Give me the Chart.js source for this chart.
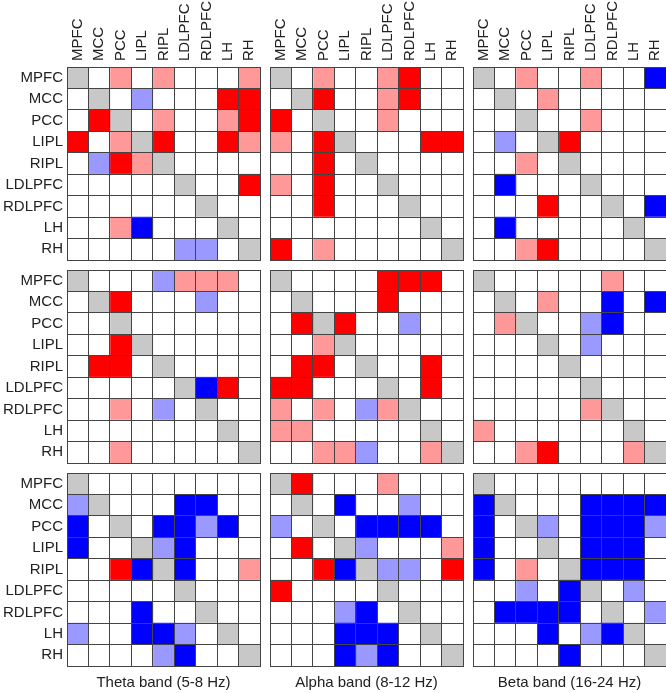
<!DOCTYPE html>
<html><head><meta charset="utf-8">
<script src="https://cdn.jsdelivr.net/npm/chart.js@4"></script>
<style>
html,body{margin:0;padding:0;background:#fff;width:666px;height:693px;overflow:hidden;position:relative}
.p{position:absolute}
</style></head><body>
<script>
// Region labels (rows and columns)
const regions = ["MPFC","MCC","PCC","LIPL","RIPL","LDLPFC","RDLPFC","LH","RH"];
const bands = ["Theta band (5-8 Hz)", "Alpha band (8-12 Hz)", "Beta band (16-24 Hz)"];
// Cell codes: 2 strong increase (red), 1 weak increase (pink), 0 none,
// -1 weak decrease (light blue), -2 strong decrease (blue), null = diagonal (grey)
const thetaTop = [
  [null,0,1,0,1,0,0,0,1],
  [0,null,0,-1,0,0,0,2,2],
  [0,2,null,0,1,0,0,1,2],
  [2,0,1,null,2,0,0,2,1],
  [0,-1,2,1,null,0,0,0,0],
  [0,0,0,0,0,null,0,0,2],
  [0,0,0,0,0,0,null,0,0],
  [0,0,1,-2,0,0,0,null,0],
  [0,0,0,0,0,-1,-1,0,null]
];
const alphaTop = [
  [null,0,1,0,0,1,2,0,0],
  [0,null,2,0,0,1,2,0,0],
  [2,0,null,0,0,1,0,0,0],
  [1,0,2,null,0,0,0,2,2],
  [0,0,2,0,null,0,0,0,0],
  [1,0,2,0,0,null,0,0,0],
  [0,0,2,0,0,0,null,0,0],
  [0,0,0,0,0,0,0,null,0],
  [2,0,1,0,0,0,0,0,null]
];
const betaTop = [
  [null,0,1,0,0,1,0,0,-2],
  [0,null,0,1,0,0,0,0,0],
  [0,0,null,0,0,1,0,0,0],
  [0,-1,0,null,2,0,0,0,0],
  [0,0,1,0,null,0,0,0,0],
  [0,-2,0,0,0,null,0,0,0],
  [0,0,0,2,0,0,null,0,-2],
  [0,-2,0,0,0,0,0,null,0],
  [0,0,1,2,0,0,0,0,null]
];
const thetaMid = [
  [null,0,0,0,-1,1,1,1,0],
  [0,null,2,0,0,0,-1,0,0],
  [0,0,null,0,0,0,0,0,0],
  [0,0,2,null,0,0,0,0,0],
  [0,2,2,0,null,0,0,0,0],
  [0,0,0,0,0,null,-2,2,0],
  [0,0,1,0,-1,0,null,0,0],
  [0,0,0,0,0,0,0,null,0],
  [0,0,1,0,0,0,0,0,null]
];
const alphaMid = [
  [null,0,0,0,0,2,2,2,0],
  [0,null,0,0,0,2,0,0,0],
  [0,2,null,2,0,0,-1,0,0],
  [0,0,1,null,0,0,0,0,0],
  [0,2,2,0,null,0,0,2,0],
  [2,2,0,0,0,null,0,2,0],
  [1,0,1,0,-1,1,null,0,0],
  [1,1,0,0,0,0,0,null,0],
  [0,0,1,1,-1,0,0,1,null]
];
const betaMid = [
  [null,0,0,0,0,0,1,0,0],
  [0,null,0,1,0,0,-2,0,-2],
  [0,1,null,0,0,-1,-2,0,0],
  [0,0,0,null,0,-1,0,0,0],
  [0,0,0,0,null,0,0,0,0],
  [0,0,0,0,0,null,0,0,0],
  [0,0,0,0,0,1,null,0,0],
  [1,0,0,0,0,0,0,null,0],
  [0,0,1,2,0,0,0,1,null]
];
const thetaBot = [
  [null,0,0,0,0,0,0,0,0],
  [-1,null,0,0,0,-2,-2,0,0],
  [-2,0,null,0,-2,-2,-1,-2,0],
  [-2,0,0,null,-1,-2,0,0,0],
  [0,0,2,-2,null,-2,0,0,1],
  [0,0,0,0,0,null,0,0,0],
  [0,0,0,-2,0,0,null,0,0],
  [-1,0,0,-2,-2,-1,0,null,0],
  [0,0,0,0,-1,-2,0,0,null]
];
const alphaBot = [
  [null,2,0,0,0,1,0,0,0],
  [0,null,0,-2,0,0,-1,0,0],
  [-1,0,null,0,-2,-2,-2,-2,0],
  [0,2,0,null,-1,0,0,0,1],
  [0,0,2,-2,null,-1,-1,0,2],
  [2,0,0,0,0,null,0,0,0],
  [0,0,0,-1,-2,0,null,0,0],
  [0,0,0,-2,-2,-2,0,null,0],
  [0,0,0,-2,-1,-2,0,0,null]
];
const betaBot = [
  [null,0,0,0,0,0,0,0,0],
  [-2,null,0,0,0,-2,-2,-2,-2],
  [-2,0,null,-1,0,-2,-2,-2,-1],
  [-2,0,0,null,0,-2,-2,-2,0],
  [-2,0,1,0,null,-2,-2,-2,0],
  [0,0,-1,0,-2,null,0,-1,0],
  [0,-2,-2,-2,-2,0,null,0,-1],
  [0,0,0,-2,0,-1,-2,null,0],
  [0,0,0,0,-2,0,0,0,null]
];

const panels = [
  [thetaTop, alphaTop, betaTop],
  [thetaMid, alphaMid, betaMid],
  [thetaBot, alphaBot, betaBot]
];
const palette = {"2":"#FF0000","1":"#FF9999","0":"#FFFFFF","-1":"#9999FF","-2":"#0000FF"};
const colorFor = v => v === null ? "#C8C8C8" : palette[String(v)];

const FONT = "'Liberation Sans', Arial, Helvetica, sans-serif";
Chart.defaults.font.family = FONT;
Chart.defaults.color = "#222";

const X0 = 67, Y0 = 67, P = 193, STEP = 203, LEFT = 67, TOP = 67, TITLE = 26;
const LINE = "#444";
const LH_PX = 18; // label line height (15px * 1.2)

for (let i = 0; i < 3; i++) {
  for (let j = 0; j < 3; j++) {
    const m = panels[i][j];
    const le = j === 0 ? LEFT : 0, te = i === 0 ? TOP : 0, be = i === 2 ? TITLE : 0;
    const div = document.createElement("div");
    div.className = "p";
    const w = le + P + 2, h = te + P + be + 2;
    div.style.left = (X0 + j * STEP - le - 1) + "px";
    div.style.top = (Y0 + i * STEP - te - 1) + "px";
    div.style.width = w + "px";
    div.style.height = h + "px";
    const cv = document.createElement("canvas");
    cv.width = w; cv.height = h;
    cv.style.width = w + "px"; cv.style.height = h + "px";
    div.appendChild(cv);
    document.body.appendChild(div);

    const datasets = regions.map((col, c) => ({
      label: col,
      data: regions.map(() => 1),
      backgroundColor: m.map(row => colorFor(row[c])),
      borderWidth: 0,
      categoryPercentage: 1,
      barPercentage: 1
    }));

    const scales = {
      x: {
        type: "linear", stacked: true, min: 0, max: 9, position: "bottom",
        ticks: { display: false, stepSize: 1 },
        grid: { color: LINE, lineWidth: 1, drawTicks: false, z: 1 },
        border: { display: true, color: LINE, width: 1, z: 1 },
        afterFit: s => { s.height = 0; s.paddingLeft = 0; s.paddingRight = 0; }
      },
      y: {
        type: "category", stacked: true, offset: true,
        grid: { offset: true, color: LINE, lineWidth: 1, drawTicks: false, z: 1 },
        border: { display: true, color: LINE, width: 1, z: 1 },
        ticks: { display: j === 0, autoSkip: false, padding: 4, font: { size: 15, family: FONT }, color: "#222" },
        afterFit: s => { s.width = le; s.paddingTop = 0; s.paddingBottom = 0; }
      }
    };
    if (i === 0) {
      scales.xTop = {
        type: "category", axis: "x", position: "top", labels: regions, offset: true,
        grid: { display: false, drawTicks: false },
        border: { display: false },
        ticks: { autoSkip: false, minRotation: 90, maxRotation: 90, padding: 6, labelOffset: LH_PX,
                 font: { size: 15, family: FONT }, color: "#222" },
        afterFit: s => { s.height = te; s.paddingLeft = 0; s.paddingRight = 0; }
      };
    }

    new Chart(cv, {
      type: "bar",
      data: { labels: regions, datasets },
      options: {
        indexAxis: "y",
        responsive: false,
        animation: false,
        events: [],
        layout: { padding: { left: 1, right: 1, top: 1, bottom: 1 } },
        scales,
        plugins: {
          legend: { display: false },
          tooltip: { enabled: false },
          title: {
            display: i === 2, text: bands[j], position: "bottom", fullSize: false,
            font: { size: 15, weight: "normal", family: FONT }, color: "#222",
            padding: { top: 8, bottom: 0 }
          }
        }
      }
    });
  }
}
</script>
</body></html>
